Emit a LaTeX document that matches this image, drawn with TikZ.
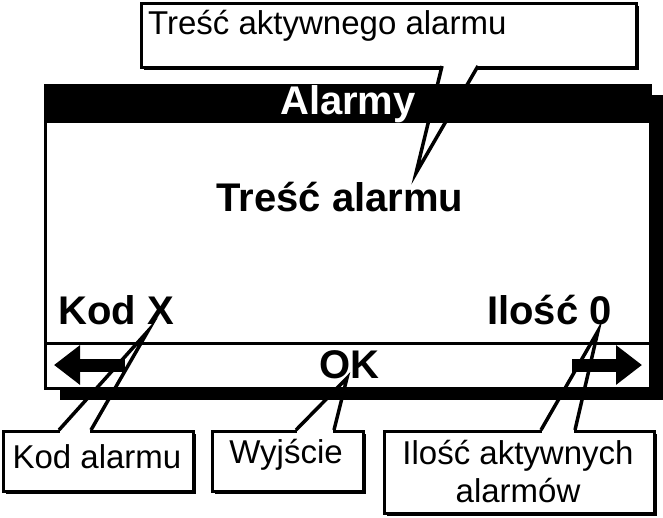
\documentclass[tikz,border=0pt]{standalone}
\usepackage{fontspec}
\setmainfont{Liberation Sans}
\usetikzlibrary{positioning,arrows.meta}
\tikzset{
	every node/.style = {inner sep = 0},
	frame/.style = {line width=3pt},
	shadow/.style = {fill=black, draw=none},
	callout/.style = {draw, fill=white, line width=3pt},
	bigtext/.style = {font=\fontsize{40}{44}\selectfont\bfseries},
	smalltext/.style = {font=\fontsize{33}{38}\selectfont, align=center},
	pointer/.style = {line width=3.5pt, line join=miter},
	gap/.style = {fill=white, draw=none},
	>={Triangle[length=26pt,width=38pt]}
}
\begin{document}
\begin{tikzpicture}[x=1pt, y=-1pt]
		\useasboundingbox (0,0) rectangle (663,517);
		% screen with shadow
		\fill[shadow] (60,95) rectangle (663,400);
		\filldraw[frame, fill=white] (45,85) rectangle (650,388);
		\fill (45,85) rectangle (650,123);
		\node(title)[bigtext, text=white] at (348,104) {Alarmy};
		\node(content)[bigtext] at (340,197) {Treść alarmu};
		\node(code)[bigtext, anchor=west] at (58,310) {Kod X};
		\node(count)[bigtext, anchor=east] at (612,310) {Ilość 0};
		\draw[frame] (45,343) -- (650,343);
		\node(ok)[bigtext] at (349,365) {OK};
		\coordinate(lefttail) at (125,365);
		\coordinate(lefthead) at (54,365);
		\coordinate(righttail) at (572,365);
		\coordinate(righthead) at (642,365);
		\draw[->, line width=13pt] (lefttail) -- (lefthead);
		\draw[->, line width=13pt] (righttail) -- (righthead);
		
		% top callout
		\fill[shadow] (144,6) rectangle (639,70);
		\node(topbox)[callout, minimum width=495, minimum height=64, anchor=north west] at (140,2) {};
		\node(toptext)[smalltext, anchor=north west] at (148,10) {Treść aktywnego alarmu};
		\coordinate(toptip) at (416,173);
		\fill[gap] (443,60) rectangle (477,70);
		\draw[pointer] (442,66) -- (toptip) -- (478,66);
		
		% bottom callouts
		\fill[shadow] (6,434) rectangle (196,494);
		\node(codebox)[callout, minimum width=190, minimum height=60, anchor=north west] at (2,430) {};
		\node(codetext)[smalltext] at (97,457) {Kod alarmu};
		\fill[shadow] (215,434) rectangle (366,494);
		\node(exitbox)[callout, minimum width=151, minimum height=60, anchor=north west] at (211,430) {};
		\node(exittext)[smalltext] at (286,455) {Wyjście};
		\fill[shadow] (387,434) rectangle (657,516);
		\node(countbox)[callout, minimum width=270, minimum height=82, anchor=north west] at (383,430) {};
		\node(counttext)[smalltext] at (518,472) {Ilość aktywnych\\alarmów};
		
		\coordinate(codetip) at (148,331);
		\coordinate(exittip) at (347,378);
		\coordinate(counttip) at (598,331);
		\fill[gap] (60,426) rectangle (90,434);
		\fill[gap] (297,426) rectangle (333,434);
		\fill[gap] (542,426) rectangle (574,434);
		\draw[pointer] (codebox.north west) ++(57,0) -- (codetip) -- ([xshift=89]codebox.north west);
		\draw[pointer] (exitbox.north west) ++(85,0) -- (exittip) -- ([xshift=123]exitbox.north west);
		\draw[pointer] (countbox.north west) ++(158,0) -- (counttip) -- ([xshift=192]countbox.north west);
		\end{tikzpicture}
\end{document}
